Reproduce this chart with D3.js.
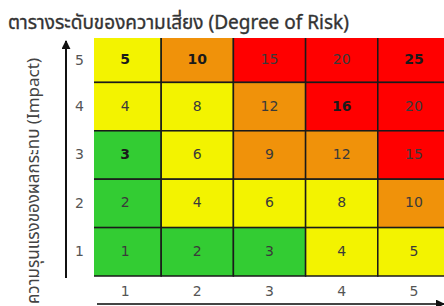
<!DOCTYPE html>
<html><head><meta charset="utf-8">
<script src="https://cdn.jsdelivr.net/npm/d3@7"></script>
<style>
html,body{margin:0;padding:0;background:#fff;}
svg{display:block;}
</style></head>
<body><svg id="c" width="444" height="306"></svg>
<script>
const title = "ตารางระดับของความเสี่ยง (Degree of Risk)";
const yTitle = "ความรุนแรงของผลกระทบ (Impact)";
const likelihood = [1, 2, 3, 4, 5];
const impact = [5, 4, 3, 2, 1];
const row5 = [5, 10, 15, 20, 25];
const row4 = [4, 8, 12, 16, 20];
const row3 = [3, 6, 9, 12, 15];
const row2 = [2, 4, 6, 8, 10];
const row1 = [1, 2, 3, 4, 5];
const level5 = ["Y", "O", "R", "R", "R"];
const level4 = ["Y", "Y", "O", "R", "R"];
const level3 = ["G", "Y", "O", "O", "R"];
const level2 = ["G", "Y", "Y", "Y", "O"];
const level1 = ["G", "G", "G", "Y", "Y"];
const bold5 = [1, 1, 0, 0, 1];
const bold4 = [0, 0, 0, 1, 0];
const bold3 = [1, 0, 0, 0, 0];
const bold2 = [0, 0, 0, 0, 0];
const bold1 = [0, 0, 0, 0, 0];

const rows = [row5, row4, row3, row2, row1];
const levels = [level5, level4, level3, level2, level1];
const bolds = [bold5, bold4, bold3, bold2, bold1];
const colorMap = {G: "#33cc33", Y: "#f3f300", O: "#f0920a", R: "#ff0000"};

const cells = [];
impact.forEach((im, r) => likelihood.forEach((lk, c) => {
  cells.push({im, lk, v: rows[r][c], lvl: levels[r][c], b: bolds[r][c]});
}));

const svg = d3.select("#c");
const x = d3.scaleBand().domain(likelihood).range([89, 450]).padding(0);
const y = d3.scaleBand().domain(impact).range([34, 276]).padding(0);
const visTop = 38;

const defs = svg.append("defs");
defs.append("clipPath").attr("id", "gclip").append("rect")
  .attr("x", 94).attr("y", visTop).attr("width", 400).attr("height", 240);
defs.append("marker").attr("id", "arr").attr("viewBox", "0 0 10 10")
  .attr("refX", 9).attr("refY", 5).attr("markerWidth", 4.5).attr("markerHeight", 4.5)
  .attr("orient", "auto").attr("markerUnits", "strokeWidth")
  .append("path").attr("d", "M0,0 L10,5 L0,10 Z").attr("fill", "#111");

// title
svg.append("text").attr("x", 8).attr("y", 29)
  .attr("font-family", "Tahoma, 'Noto Sans Thai', 'Noto Sans', 'DejaVu Sans', sans-serif")
  .attr("font-size", 19).attr("font-weight", "normal").attr("fill", "#333")
  .attr("stroke", "#333").attr("stroke-width", 0.35)
  .text(title);

const g = svg.append("g").attr("clip-path", "url(#gclip)");
g.selectAll("rect.cell").data(cells).join("rect").attr("class", "cell")
  .attr("x", d => x(d.lk)).attr("y", d => y(d.im))
  .attr("width", x.bandwidth()).attr("height", y.bandwidth())
  .attr("fill", d => colorMap[d.lvl])
  .attr("stroke", "#1a1a1a").attr("stroke-width", 1.5);

const midY = v => (Math.max(y(v), visTop) + y(v) + y.bandwidth()) / 2;

g.selectAll("text.val").data(cells).join("text").attr("class", "val")
  .attr("x", d => x(d.lk) + x.bandwidth() / 2)
  .attr("y", d => midY(d.im) - 1)
  .attr("text-anchor", "middle").attr("dominant-baseline", "central")
  .attr("font-family", "Tahoma, Verdana, 'DejaVu Sans', sans-serif")
  .attr("font-size", 14)
  .attr("font-weight", d => d.b ? "bold" : "normal")
  .attr("fill", d => d.b ? "#1a1a1a" : "#3a3a3a")
  .text(d => d.v);

// axes tick labels
const xAxis = svg.append("g").attr("transform", "translate(0,286)")
  .call(d3.axisBottom(x).tickSize(0).tickPadding(0));
xAxis.select(".domain").remove();
xAxis.selectAll("text").attr("font-family", "Tahoma, Verdana, 'DejaVu Sans', sans-serif")
  .attr("font-size", 14).attr("fill", "#555");

const yAxis = svg.append("g").attr("transform", "translate(86,0)")
  .call(d3.axisLeft(y).tickSize(0).tickPadding(2));
yAxis.select(".domain").remove();
yAxis.selectAll("text").attr("font-family", "Tahoma, Verdana, 'DejaVu Sans', sans-serif")
  .attr("font-size", 14).attr("fill", "#555");
yAxis.selectAll(".tick").attr("transform", d => `translate(0,${midY(d)})`);

// arrows
svg.append("line").attr("x1", 66).attr("x2", 66).attr("y1", 278).attr("y2", 41)
  .attr("stroke", "#111").attr("stroke-width", 2).attr("marker-end", "url(#arr)");
svg.append("line").attr("x1", 97).attr("x2", 444).attr("y1", 304).attr("y2", 304)
  .attr("stroke", "#444").attr("stroke-width", 2).attr("marker-end", "url(#arr)");

// y title
svg.append("text").attr("transform", "translate(39,58) rotate(-90)")
  .attr("text-anchor", "end")
  .attr("font-family", "Tahoma, 'Noto Sans Thai', 'Noto Sans', 'DejaVu Sans', sans-serif")
  .attr("font-size", 17).attr("fill", "#444")
  .text(yTitle);
</script></body></html>
